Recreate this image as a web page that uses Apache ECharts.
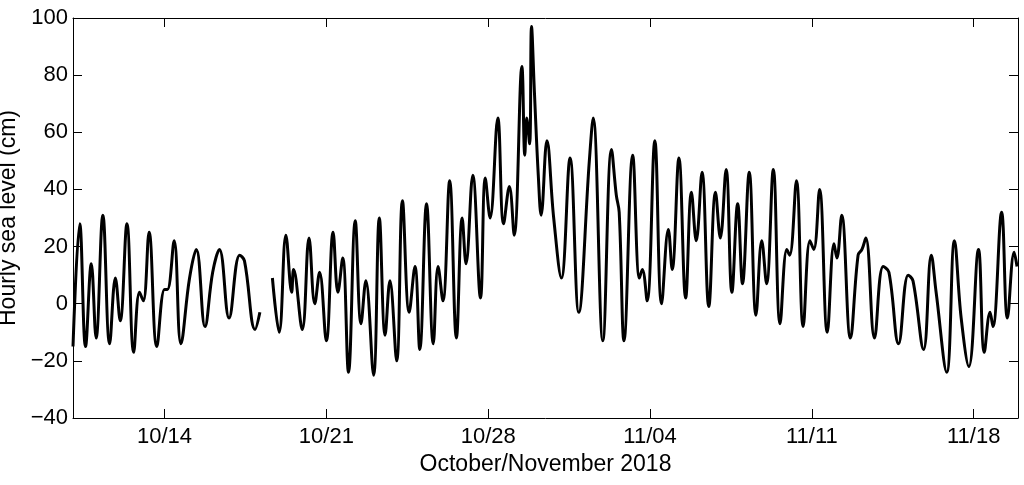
<!DOCTYPE html>
<html>
<head>
<meta charset="utf-8">
<script src="https://cdn.jsdelivr.net/npm/echarts@6/dist/echarts.min.js"></script>
<style>
html,body{margin:0;padding:0;background:#fff;}
#chart{width:1024px;height:485px;}
</style>
</head>
<body>
<div id="chart"></div>
<script>
// Observation times (2018) of turning points of the hourly record; null = data gap
const times = [
'10-10 01:00','10-10 08:00','10-10 14:00','10-10 20:00','10-11 01:00','10-11 08:00','10-11 15:00','10-11 21:00',
'10-12 02:00','10-12 09:00','10-12 16:00','10-12 22:00','10-13 02:00','10-13 08:00','10-13 16:00','10-14 00:00',
'10-14 03:00','10-14 10:00','10-14 17:00','10-15 02:00','10-15 09:00','10-15 18:00','10-16 02:00','10-16 09:00',
'10-16 19:00','10-17 06:00','10-17 11:00','10-17 22:00','10-18 03:00','10-18 09:00','10-18 16:00','10-18 23:00',
'10-19 06:00','10-19 12:00','10-19 14:00','10-19 23:00','10-20 06:00','10-20 12:00','10-20 17:00','10-21 00:00',
'10-21 07:00','10-21 12:00','10-21 17:00','10-21 23:00','10-22 06:00','10-22 12:00','10-22 17:00','10-23 01:00',
'10-23 07:00','10-23 13:00','10-23 18:00','10-24 01:00','10-24 07:00','10-24 14:00','10-24 20:00','10-25 01:00',
'10-25 08:00','10-25 15:00','10-25 20:00','10-26 01:00','10-26 08:00','10-26 15:00','10-26 21:00','10-27 01:00',
'10-27 08:00','10-27 16:00','10-27 21:00','10-28 02:00','10-28 10:00','10-28 16:00','10-28 22:00','10-29 03:00',
'10-29 11:00','10-29 14:00','10-29 16:00','10-29 19:00','10-29 21:00','10-30 00:00','10-30 04:00','10-30 07:00',
'10-30 13:00','10-30 20:00','10-31 04:00','10-31 13:00','10-31 22:00','11-01 09:00','11-01 13:00','11-01 23:00',
'11-02 08:00','11-02 13:00','11-02 16:00','11-02 21:00','11-03 06:00','11-03 13:00','11-03 16:00','11-03 21:00',
'11-04 05:00','11-04 12:00','11-04 19:00','11-04 23:00','11-05 06:00','11-05 13:00','11-05 19:00','11-06 00:00',
'11-06 06:00','11-06 13:00','11-06 20:00','11-07 01:00','11-07 07:00','11-07 13:00','11-07 19:00','11-08 00:00',
'11-08 07:00','11-08 14:00','11-08 20:00','11-09 01:00','11-09 08:00','11-09 15:00','11-09 22:00','11-10 01:00',
'11-10 08:00','11-10 15:00','11-10 22:00','11-11 02:00','11-11 08:00','11-11 16:00','11-11 23:00','11-12 02:00',
'11-12 07:00','11-12 16:00','11-13 00:00','11-13 04:00','11-13 08:00','11-13 17:00','11-14 02:00','11-14 08:00',
'11-14 18:00','11-15 04:00','11-15 09:00','11-15 20:00','11-16 04:00','11-16 09:00','11-16 20:00','11-17 04:00',
'11-17 11:00','11-17 19:00','11-18 05:00','11-18 11:00','11-18 17:00','11-18 20:00','11-19 05:00','11-19 11:00',
'11-19 18:00','11-19 21:00'
];
// Hourly sea level (cm) at those times
const levels = [
-15,28,-15,14,-12,31,-14,9,
-6,28,-17,4,1,25,-15,5,
5,22,-14,9,19,-8,11,19,
-5,17,15,-9,-3,null,9,-10,
24,4,12,-9,23,0,11,-13,
25,4,16,-24,29,-7,8,-25,
30,-11,8,-20,36,-3,13,-16,
35,-14,13,1,43,-12,30,14,
45,2,44,30,65,28,41,24,
83,52,65,56,97,74,45,31,
57,30,9,51,-3,50,65,-13,
54,38,32,-13,52,9,12,1,
57,0,26,12,51,2,39,22,
46,-1,39,23,47,4,35,7,
46,-4,22,7,47,-7,19,17,
43,-8,22,19,40,-10,21,16,
31,-12,17,19,23,-12,13,11,
-14,10,8,-16,17,4,-24,22,
-5,-22,19,-17,-3,-8,32,-5,
18,13
];
const tickDates = ['2018-10-14','2018-10-21','2018-10-28','2018-11-04','2018-11-11','2018-11-18'];
const tickLabels = ['10/14','10/21','10/28','11/04','11/11','11/18'];
const xStart = '2018-10-10 01:00';
const xEnd = '2018-11-19 22:00';

function ms(s) { return echarts.time.parse(s).getTime(); }
const data = times.map((t, i) => [ms('2018-' + t + ':00'), levels[i]]);
const tickVals = tickDates.map(d => ms(d + ' 00:00:00'));
const xMin = ms(xStart + ':00');
const xMax = ms(xEnd + ':00');
function labelFor(v) {
  let best = 0, bd = Infinity;
  tickVals.forEach((t, i) => { const d = Math.abs(t - v); if (d < bd) { bd = d; best = i; } });
  return bd < 3600000 ? tickLabels[best] : '';
}

const FONT = 'Liberation Sans, Arial, Helvetica, sans-serif';
const FS = 22;
const NFS = 23;
const chart = echarts.init(document.getElementById('chart'), null, {renderer: 'canvas'});
const axisLine = {show: true, onZero: false, lineStyle: {color: '#000', width: 1}};
const tick = {show: true, inside: true, length: 9, lineStyle: {color: '#000', width: 1}};

chart.setOption({
  animation: false,
  backgroundColor: '#fff',
  grid: {left: 73, right: 6, top: 18, bottom: 67, containLabel: false, outerBoundsMode: 'none'},
  xAxis: [{
    type: 'value', min: xMin, max: xMax, scale: true,
    name: 'October/November 2018', nameLocation: 'middle', nameGap: 32,
    nameTextStyle: {color: '#000', fontSize: NFS, fontFamily: FONT},
    axisLine: axisLine,
    axisTick: Object.assign({}, tick, {customValues: tickVals}),
    axisLabel: {customValues: tickVals, color: '#000', fontSize: FS, fontFamily: FONT, margin: 8,
      formatter: v => labelFor(v)},
    splitLine: {show: false}
  }, {
    type: 'value', min: xMin, max: xMax, scale: true, position: 'top',
    axisLine: axisLine,
    axisTick: Object.assign({}, tick, {customValues: tickVals}),
    axisLabel: {show: false},
    splitLine: {show: false}
  }],
  yAxis: [{
    type: 'value', min: -40, max: 100, interval: 20,
    name: 'Hourly sea level (cm)', nameLocation: 'middle', nameGap: 49, nameRotate: 90,
    nameTextStyle: {color: '#000', fontSize: NFS, fontFamily: FONT},
    axisLine: axisLine, axisTick: tick,
    axisLabel: {color: '#000', fontSize: FS, fontFamily: FONT, margin: 5,
      formatter: v => (v < 0 ? '\u2212' + Math.abs(v) : String(v))},
    splitLine: {show: false}
  }, {
    type: 'value', min: -40, max: 100, interval: 20, position: 'right',
    axisLine: axisLine, axisTick: tick, axisLabel: {show: false}, splitLine: {show: false}
  }],
  series: [{
    type: 'line', data: data, xAxisIndex: 0, yAxisIndex: 0,
    showSymbol: false, smooth: 0.4, connectNulls: false,
    lineStyle: {color: '#000', width: 3}
  }]
});
</script>
</body>
</html>
